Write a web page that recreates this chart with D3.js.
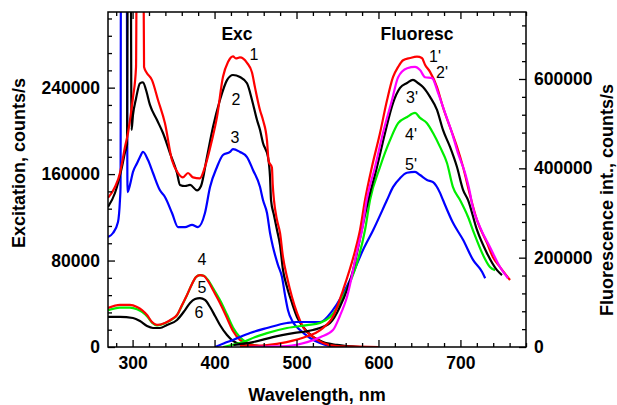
<!DOCTYPE html>
<html><head><meta charset="utf-8">
<script src="https://cdn.jsdelivr.net/npm/d3@7"></script>
<style>
body{margin:0;background:#fff}
svg{display:block}
text{font-family:Arial,"Liberation Sans",Helvetica,sans-serif}
</style>
</head><body>
<svg id="c" width="617" height="405"></svg>
<script>
// ---------- data (wavelength nm, counts/s) ----------
const xMajorTicks = [300, 400, 500, 600, 700];
const leftMajorTicks = [0, 80000, 160000, 240000];
const rightMajorTicks = [0, 200000, 400000, 600000];

// Excitation spectra (left axis)
const exc1 = [[270,138000],[278.5,148000],[284.6,161000],[287,170000],[290.7,185000],[294.4,198000],[296.8,210000],[300.5,231000],[304.2,259000],[305.4,420000],[312.7,420000],[314,259000],[317,254000],[323.7,247000],[331,228600],[339.5,207000],[348,173000],[355.4,161000],[361.5,157000],[367.6,161000],[373.7,157000],[382,156000],[388.3,166600],[396.9,191600],[403,213000],[410.3,250000],[416.4,263700],[422.5,269000],[426,267000],[431,268000],[439.6,263000],[445.7,254000],[449.4,240000],[455.5,219000],[459.1,210000],[464,191000],[466,172000],[470,166000],[471,150000],[472.5,136000],[476.2,117500],[479.9,105500],[483.5,83300],[488.4,64800],[494.5,46300],[500.6,31500],[508,18500],[520.2,9300],[532.3,3700],[549.4,900],[575,300],[600,0]];
const exc2 = [[270,129600],[278.5,142500],[287,166600],[290.7,180000],[293.2,187000],[294.4,420000],[297.5,420000],[298.7,200800],[300.5,214700],[304.2,230000],[309,244000],[312.7,245000],[316.4,237800],[321.2,224000],[329.8,210000],[337.1,198000],[345.6,179500],[354.2,161000],[357.8,150000],[364,149000],[370.1,150000],[378.6,145000],[383.5,149000],[390.8,176000],[398.1,203600],[406.6,228600],[415.2,247000],[422.5,251700],[431,249900],[439.6,244000],[445.7,228600],[451.8,210000],[455.5,200800],[459.1,188800],[465.2,175800],[467.7,157300],[468.9,136000],[472.5,122000],[476.2,108300],[479.9,94400],[483.5,71300],[488.4,55500],[494.5,40700],[500.6,27800],[508,18500],[520.2,9300],[532.3,4600],[549.4,1900],[577.5,0]];
const exc3 = [[270,101800],[276.1,105500],[282.2,115700],[284.6,136000],[285.3,148000],[285.9,420000],[292.6,420000],[293.8,143400],[296.8,150000],[300.5,162000],[305.4,170000],[309,175800],[312.7,180500],[318.8,173000],[324.9,161000],[333.4,145000],[339.5,138800],[348.1,124000],[355.4,111000],[364,111000],[372.5,113000],[379.8,111000],[388.3,124000],[394.5,148000],[403,166600],[410.3,177700],[418.9,180500],[422.5,183200],[431,180500],[439.6,175800],[446.9,163800],[455.5,148000],[459.1,136000],[464,124000],[467.7,105500],[471.3,92500],[477.4,75900],[482.3,64800],[486,48000],[489.6,34000],[495.7,23000],[504.3,15700],[516.5,8300],[528.7,3700],[540.9,900],[548,0]];
const exc4 = [[270,36100],[284.6,38900],[296.8,38900],[305.4,37000],[311.5,34200],[317.6,29600],[323.7,23100],[329.8,20400],[339.5,22200],[348.1,25900],[354.2,29600],[360.3,38900],[366.4,48100],[372.5,58300],[377.4,64800],[382.2,66600],[387.1,65700],[392,61100],[398.1,52700],[406.6,40700],[415.2,26800],[422.5,14800],[431,6500],[439.6,2800],[455.5,900],[470,0]];
const exc5 = [[270,34000],[284.6,36500],[296.8,36500],[305.4,35000],[311.5,32500],[317.6,28500],[323.7,22500],[329.8,20000],[339.5,22000],[348.1,25500],[354.2,29500],[360.3,38500],[366.4,48000],[372.5,58300],[377.4,64800],[382.2,66600],[387.1,66000],[392,62000],[398.1,54500],[406.6,43500],[415.2,30000],[422.5,18000],[431,9000],[439.6,4000],[450,1500],[465,0]];
const exc6 = [[270,27800],[284.6,27800],[300.5,26800],[309,24000],[317.6,19400],[324.9,17600],[333.4,17600],[342,20400],[354.2,25000],[364,34200],[370.1,40700],[376.2,44400],[382.2,45300],[388.3,43500],[394.5,37000],[400.6,28700],[406.6,20400],[415.2,11100],[422.5,5600],[434.7,1900],[449.4,0]];

// Fluorescence spectra (right axis)
const fl1 = [[431,2000],[464,4500],[488,11000],[513,24000],[529,38000],[545.7,72000],[556.7,127000],[571.4,215000],[577.5,262000],[583.6,329000],[592,403000],[601.9,479000],[610.5,553000],[617.7,604000],[624,627000],[630,642000],[638.5,647000],[647,650000],[653,647000],[656.8,632000],[662.9,616000],[671.4,582000],[678.7,537000],[687.3,492000],[695.8,448000],[703.2,403000],[711.7,340000],[720.2,284000],[732.4,233000],[739.7,201000],[748.3,179000],[760.5,150000]];
const fl2 = [[440,0],[465,1000],[488,2200],[513,11000],[529,22000],[544.5,38000],[553,70000],[561.6,112000],[575,224000],[580,262000],[585.6,329000],[595.8,403000],[605.5,479000],[616.5,553000],[624,604000],[635,624000],[644.6,627000],[650.7,620000],[656.8,604000],[665.3,602000],[672.7,569000],[681.2,524000],[689.8,479000],[697,434000],[705.6,390000],[711.7,345000],[714,322000],[723.8,269000],[736,224000],[748.3,179000],[758,154000]];
const fl3 = [[423,4500],[447,11000],[471,22000],[496,31000],[520,38000],[541,54000],[553,90000],[569,172000],[579.6,262000],[587.6,329000],[598.2,403000],[608,479000],[617.7,546000],[626.3,580000],[634.8,591000],[642.1,598000],[648.2,591000],[654.3,582000],[662.9,560000],[671.4,531000],[678.7,486000],[687.3,448000],[695.8,403000],[703.2,352000],[709.3,329000],[720.2,262000],[732.4,210000],[744.6,172000],[750.7,161000]];
const fl4 = [[410.3,0],[422,5000],[434.7,11000],[449,22000],[464,31000],[488.4,42500],[512.8,49000],[528.7,54000],[540.9,67000],[556.7,112000],[573.8,188000],[583.6,262000],[589.7,329000],[601.9,403000],[614.1,463000],[624,501000],[635,515000],[644.6,524000],[650.7,513000],[659.2,501000],[666.6,479000],[675.1,448000],[683.6,412000],[690.9,358000],[699.5,329000],[709.3,291000],[716.6,255000],[728.9,201000],[736,179000],[742.2,172000]];
const fl5 = [[400.6,0],[411,8000],[422.5,15700],[443.3,31300],[464,42500],[488.4,53700],[500,56000],[512.8,56000],[528.7,56000],[544.5,83000],[565.3,150000],[581.1,217000],[593.6,262000],[610.4,329000],[617.7,358000],[626.3,378000],[634.8,390000],[644.6,392000],[650.7,385000],[659.2,374000],[666.6,369000],[675.1,345000],[678.7,329000],[690.9,278000],[703.2,240000],[715.4,195000],[726.5,168000],[730.2,154000]];

const curveLabels = [
  {t:"1", w:448, v:265600, ax:"L"}, {t:"2", w:426.2, v:224000, ax:"L"}, {t:"3", w:425, v:188800, ax:"L"},
  {t:"4", w:384.7, v:75900, ax:"L"}, {t:"5", w:384.7, v:50000, ax:"L"}, {t:"6", w:381, v:26800, ax:"L"},
  {t:"1'", w:669, v:638000, ax:"R"}, {t:"2'", w:677.5, v:602000, ax:"R"}, {t:"3'", w:641, v:546000, ax:"R"},
  {t:"4'", w:639.7, v:463000, ax:"R"}, {t:"5'", w:639.7, v:396000, ax:"R"}
];

// ---------- layout ----------
const L = 108, R = 526, T = 12, B = 347;
const svg = d3.select("#c");
const x = d3.scaleLinear().domain([270, 780]).range([L, R]);
const yL = d3.scaleLinear().domain([0, 310000]).range([B, T]);
const yR = d3.scaleLinear().domain([0, 750000]).range([B, T]);

const tickFont = "bold 17.5px Arial, 'Liberation Sans', sans-serif";

svg.append("defs").append("clipPath").attr("id","clip")
  .append("rect").attr("x",L).attr("y",T).attr("width",R-L).attr("height",B-T);

// curves
const lineL = d3.line().x(d=>x(d[0])).y(d=>yL(d[1])).curve(d3.curveMonotoneX);
const lineR = d3.line().x(d=>x(d[0])).y(d=>yR(d[1])).curve(d3.curveMonotoneX);
const gC = svg.append("g").attr("clip-path","url(#clip)");
const series = [
  [exc3,"#0000ff",lineL],[exc2,"#000000",lineL],[exc1,"#ff0000",lineL],
  [exc6,"#000000",lineL],[exc5,"#00ee00",lineL],[exc4,"#ff0000",lineL],
  [fl5,"#0000ff",lineR],[fl4,"#00ee00",lineR],[fl3,"#000000",lineR],[fl1,"#ff0000",lineR],[fl2,"#ff00ff",lineR]
];
series.forEach(([d,c,ln])=>{
  gC.append("path").attr("d",ln(d)).attr("fill","none").attr("stroke",c)
    .attr("stroke-width",2.2).attr("stroke-linejoin","round");
});

// axes
function styleAxis(g){
  g.select(".domain").remove();
  g.selectAll(".tick line").attr("stroke","#000").attr("stroke-width",1.3);
  g.selectAll(".tick text").style("font",tickFont).attr("fill","#000");
}
const xMinor = d3.range(280, 781, 20).filter(v=>v%100!==0);
svg.append("g").attr("transform",`translate(0,${B})`)
  .call(d3.axisBottom(x).tickValues(xMajorTicks).tickSizeInner(-7).tickSizeOuter(0).tickPadding(10).tickFormat(d3.format("d"))).call(styleAxis);
svg.append("g").attr("transform",`translate(0,${B})`)
  .call(d3.axisBottom(x).tickValues(xMinor).tickSizeInner(-4).tickSizeOuter(0).tickFormat("")).call(styleAxis);
svg.append("g").attr("transform",`translate(0,${T})`)
  .call(d3.axisTop(x).tickValues(xMajorTicks).tickSizeInner(-7).tickSizeOuter(0).tickFormat("")).call(styleAxis);
svg.append("g").attr("transform",`translate(0,${T})`)
  .call(d3.axisTop(x).tickValues(xMinor).tickSizeInner(-4).tickSizeOuter(0).tickFormat("")).call(styleAxis);

const lMinor = d3.range(16000, 310000, 16000).filter(v=>v%80000!==0);
svg.append("g").attr("transform",`translate(${L},0)`)
  .call(d3.axisLeft(yL).tickValues(leftMajorTicks).tickSizeInner(-7).tickSizeOuter(0).tickPadding(8).tickFormat(d3.format("d"))).call(styleAxis);
svg.append("g").attr("transform",`translate(${L},0)`)
  .call(d3.axisLeft(yL).tickValues(lMinor).tickSizeInner(-4).tickSizeOuter(0).tickFormat("")).call(styleAxis);

const rMinor = d3.range(40000, 750000, 40000).filter(v=>v%200000!==0);
svg.append("g").attr("transform",`translate(${R},0)`)
  .call(d3.axisRight(yR).tickValues(rightMajorTicks).tickSizeInner(-7).tickSizeOuter(0).tickPadding(8).tickFormat(d3.format("d"))).call(styleAxis);
svg.append("g").attr("transform",`translate(${R},0)`)
  .call(d3.axisRight(yR).tickValues(rMinor).tickSizeInner(-4).tickSizeOuter(0).tickFormat("")).call(styleAxis);

// frame
svg.append("rect").attr("x",L).attr("y",T).attr("width",R-L).attr("height",B-T)
  .attr("fill","none").attr("stroke","#000").attr("stroke-width",1.5);

// titles
const titleFont = "bold 18px Arial, 'Liberation Sans', sans-serif";
svg.append("text").attr("x",(L+R)/2).attr("y",401).attr("text-anchor","middle").style("font",titleFont).text("Wavelength, nm");
svg.append("text").attr("transform","translate(25,163) rotate(-90)").attr("text-anchor","middle").style("font",titleFont).text("Excitation, counts/s");
svg.append("text").attr("transform","translate(613,200) rotate(-90)").attr("text-anchor","middle").style("font",titleFont).text("Fluorescence int., counts/s");
svg.append("text").attr("x",237).attr("y",40).attr("text-anchor","middle").style("font","bold 17.5px Arial, 'Liberation Sans', sans-serif").text("Exc");
svg.append("text").attr("x",417).attr("y",40).attr("text-anchor","middle").style("font","bold 17.5px Arial, 'Liberation Sans', sans-serif").text("Fluoresc");

// curve numbers
curveLabels.forEach(c=>{
  const yy = c.ax==="L" ? yL(c.v) : yR(c.v);
  svg.append("text").attr("x",x(c.w)).attr("y",yy).attr("text-anchor","middle")
    .style("font","16px Arial, 'Liberation Sans', sans-serif").text(c.t);
});
</script>
</body></html>
